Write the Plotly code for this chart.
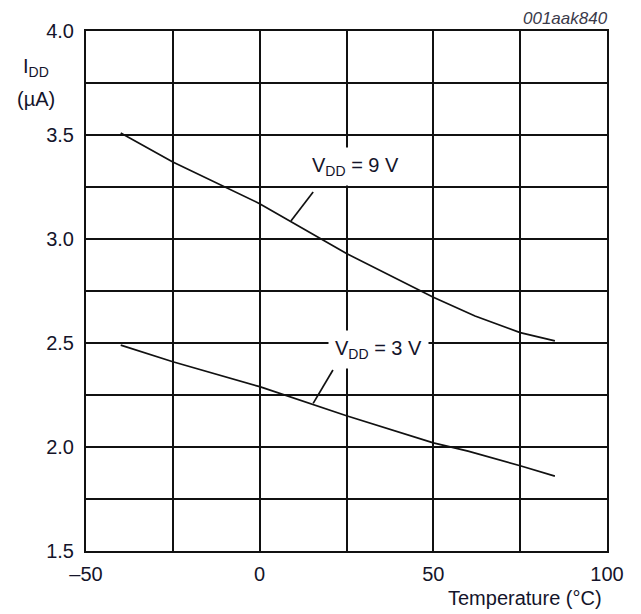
import plotly.graph_objects as go

# Data
temp_9v = [-40, -25, 0, 25, 50, 62, 75, 85]
idd_9v = [3.51, 3.37, 3.17, 2.93, 2.72, 2.63, 2.55, 2.51]
temp_3v = [-40, -25, 0, 25, 50, 60, 75, 85]
idd_3v = [2.49, 2.41, 2.29, 2.15, 2.02, 1.98, 1.91, 1.86]

x_ticks = [-50, -25, 0, 25, 50, 75, 100]
x_ticktext = ["\u201350", "", "0", "", "50", "", "100"]
y_ticks = [1.5, 1.75, 2.0, 2.25, 2.5, 2.75, 3.0, 3.25, 3.5, 3.75, 4.0]
y_ticktext = ["1.5", "", "2.0", "", "2.5", "", "3.0", "", "3.5", "", "4.0"]

# leader lines (label -> curve)
lead_9v_x = [15.4, 9.0]
lead_9v_y = [3.226, 3.087]
lead_3v_x = [21.1, 15.4]
lead_3v_y = [2.37, 2.21]

# label positions (data coordinates)
label_9v = (27.7, 3.35)
label_3v = (34.1, 2.47)

FONT = "Liberation Sans, Arial, sans-serif"
TXT = "#14142a"
FS = 20

fig = go.Figure()
for xs, ys in [(temp_9v, idd_9v), (temp_3v, idd_3v), (lead_9v_x, lead_9v_y), (lead_3v_x, lead_3v_y)]:
    fig.add_trace(go.Scatter(x=xs, y=ys, mode="lines",
                             line=dict(color="#111", width=1.7),
                             showlegend=False, hoverinfo="skip"))

fig.update_layout(
    width=641, height=614,
    margin=dict(l=86, r=34, t=31, b=63),
    paper_bgcolor="white", plot_bgcolor="white",
    font=dict(family=FONT, size=FS, color=TXT),
    xaxis=dict(range=[-50, 100], tickvals=x_ticks, ticktext=x_ticktext,
               showgrid=True, gridcolor="#111", gridwidth=2,
               showline=True, linecolor="#111", linewidth=2, mirror=True,
               zeroline=False, ticks="", ticklabelstandoff=4,
               tickfont=dict(family=FONT, size=FS, color=TXT)),
    yaxis=dict(range=[1.5, 4.0], tickvals=y_ticks, ticktext=y_ticktext,
               showgrid=True, gridcolor="#111", gridwidth=2,
               showline=True, linecolor="#111", linewidth=2, mirror=True,
               zeroline=False, ticks="", ticklabelstandoff=6,
               tickfont=dict(family=FONT, size=FS, color=TXT)),
)

fig.update_layout(annotations=[
    dict(x=label_9v[0], y=label_9v[1], xref="x", yref="y",
         text="V<sub>DD</sub> = 9 V", showarrow=False,
         bgcolor="white", borderpad=6,
         font=dict(family=FONT, size=FS, color=TXT)),
    dict(x=label_3v[0], y=label_3v[1], xref="x", yref="y",
         text="V<sub>DD</sub> = 3 V", showarrow=False,
         bgcolor="white", borderpad=6,
         font=dict(family=FONT, size=FS, color=TXT)),
    dict(x=-0.096, y=(551 - 68) / 520, xref="paper", yref="paper",
         text="I<sub>DD</sub>", showarrow=False, xanchor="center", yanchor="middle",
         font=dict(family=FONT, size=FS, color=TXT)),
    dict(x=-0.096, y=(551 - 99) / 520, xref="paper", yref="paper",
         text="(\u00b5A)", showarrow=False, xanchor="center", yanchor="middle",
         font=dict(family=FONT, size=FS, color=TXT)),
    dict(x=(604 - 86) / 521, y=(551 - 598) / 520, xref="paper", yref="paper",
         text="Temperature (\u00b0C)", showarrow=False, xanchor="right", yanchor="middle",
         font=dict(family=FONT, size=FS, color=TXT)),
    dict(x=(610 - 86) / 521, y=(551 - 18) / 520, xref="paper", yref="paper",
         text="<i>001aak840</i>", showarrow=False, xanchor="right", yanchor="middle",
         font=dict(family=FONT, size=17, color="#3a3a4a")),
])

fig.write_html("out.html")
